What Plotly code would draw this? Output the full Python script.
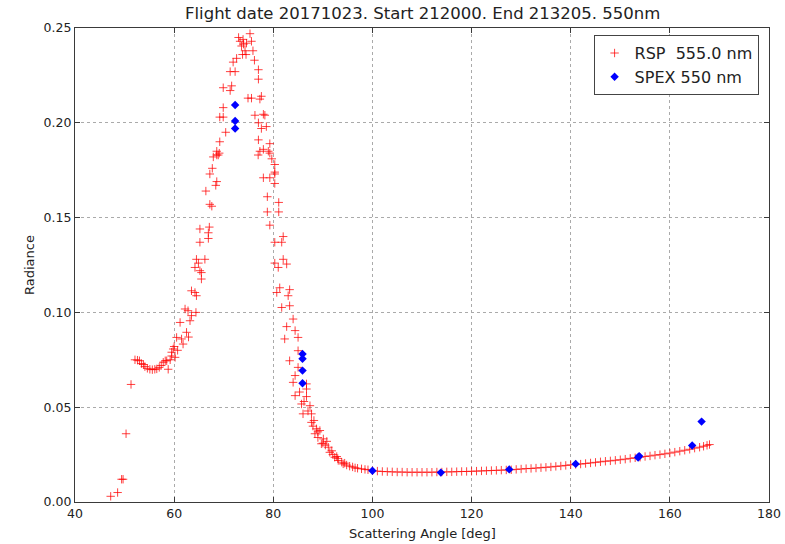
import plotly.graph_objects as go

# ---------------- data ----------------
title_text = "Flight date 20171023. Start 212000. End 213205. 550nm"
x_label = "Scattering Angle [deg]"
y_label = "Radiance"
rsp_name = "RSP  555.0 nm"
spex_name = "SPEX 550 nm"

x_ticks = [40, 60, 80, 100, 120, 140, 160, 180]
y_ticks = [0.00, 0.05, 0.10, 0.15, 0.20, 0.25]
y_tick_labels = ["0.00", "0.05", "0.10", "0.15", "0.20", "0.25"]

# RSP: rising branch
rsp_rise_angle = [47.2, 48.6, 49.4, 49.7, 50.3, 51.3, 52.1, 52.6, 53.0, 53.4, 53.8, 54.1,
                  54.6, 55.1, 55.6, 56.1, 56.5, 57.0, 57.4, 57.8, 58.2, 58.5, 58.8, 59.2,
                  59.5, 59.5, 59.8, 60.0, 60.2, 60.5, 60.7, 61.2, 61.5, 61.8, 62.2, 62.5,
                  62.8, 62.9, 63.2, 63.5, 63.5, 64.2, 64.4, 64.5, 64.2, 64.9, 65.2, 65.5,
                  65.2, 65.5, 64.5, 66.2, 66.9, 67.1, 65.2, 66.9, 67.6, 67.2, 66.4, 68.4,
                  68.6, 67.2, 67.7, 67.9, 68.6, 68.6, 68.9, 69.1, 69.2, 70.4, 69.2, 69.9,
                  69.9, 69.9, 71.3, 71.6, 71.3, 72.3, 71.9, 72.6, 73.3, 73.6, 73.9, 74.3,
                  74.6, 73.0, 74.0, 74.5, 73.8]
rsp_rise_rad = [0.003, 0.005, 0.012, 0.012, 0.036, 0.062, 0.075, 0.0748, 0.0745, 0.073, 0.0725, 0.0714,
                0.0705, 0.070, 0.0698, 0.070, 0.0702, 0.071, 0.072, 0.0737, 0.0745, 0.0745, 0.070, 0.075,
                0.077, 0.079, 0.0807, 0.082, 0.0763, 0.0868, 0.080, 0.0947, 0.086, 0.0833, 0.1018, 0.0895,
                0.1009, 0.087, 0.0956, 0.0983, 0.1114, 0.1105, 0.100, 0.1088, 0.1237, 0.126, 0.122, 0.1176,
                0.137, 0.121, 0.128, 0.128, 0.139, 0.145, 0.144, 0.142, 0.156, 0.157, 0.164, 0.167,
                0.169, 0.173, 0.176, 0.182, 0.183, 0.185, 0.183, 0.184, 0.190, 0.195, 0.203, 0.203,
                0.208, 0.2185, 0.217, 0.2195, 0.227, 0.227, 0.232, 0.234, 0.243, 0.2405, 0.244, 0.238,
                0.242, 0.245, 0.2415, 0.236, 0.236]

# RSP: falling branch
rsp_fall_angle = [75.3, 75.6, 75.9, 76.2, 77.0, 77.0, 74.9, 75.6, 77.3, 77.6, 76.3, 78.0,
                  78.3, 77.0, 78.6, 77.6, 77.0, 79.3, 77.3, 78.0, 79.3, 79.7, 80.3, 76.95,
                  79.0, 80.3, 78.0, 79.3, 80.3, 80.3, 78.8, 81.1, 78.8, 81.1, 79.3, 82.0,
                  80.3, 81.7, 82.0, 80.3, 82.7, 81.0, 81.3, 83.3, 80.7, 83.0, 81.7, 83.3,
                  84.0, 82.7, 84.4, 82.3, 85.0, 85.0, 83.3, 85.0, 84.4, 84.0, 86.7, 86.7,
                  84.4, 86.7, 85.7, 87.4, 86.0, 87.7, 87.7, 88.0, 88.7, 89.4, 88.4, 89.0,
                  90.1, 90.0, 89.7, 90.5, 91.1, 91.4, 91.8, 92.0, 92.4, 93.0, 93.1, 93.8,
                  94.1, 94.8, 95.4, 96.0, 96.5, 97.0, 97.8, 98.5, 99.1,
                  85.3, 86.2, 87.0, 88.2, 89.0, 90.8, 92.8, 94.4]
rsp_fall_rad = [0.247, 0.243, 0.238, 0.233, 0.228, 0.223, 0.213, 0.213, 0.2125, 0.214, 0.204, 0.2045,
                0.204, 0.200, 0.198, 0.197, 0.191, 0.189, 0.185, 0.186, 0.184, 0.181, 0.174, 0.183,
                0.185, 0.178, 0.171, 0.171, 0.173, 0.168, 0.161, 0.158, 0.153, 0.153, 0.146, 0.140,
                0.137, 0.137, 0.128, 0.126, 0.1255, 0.1237, 0.113, 0.112, 0.1105, 0.1088, 0.1026, 0.1035,
                0.0965, 0.0925, 0.0904, 0.086, 0.0868, 0.0798, 0.0745, 0.071, 0.0667, 0.0631, 0.0623, 0.0596,
                0.0561, 0.0556, 0.0517, 0.0508, 0.0465, 0.0465, 0.042, 0.040, 0.0386, 0.0377, 0.036, 0.034,
                0.0333, 0.031, 0.0307, 0.030, 0.0289, 0.0262, 0.027, 0.025, 0.0236, 0.023, 0.0219, 0.021,
                0.0201, 0.0195, 0.0189, 0.0185, 0.018, 0.0178, 0.0175, 0.0172, 0.017,
                0.058, 0.053, 0.048, 0.043, 0.037, 0.032, 0.024, 0.0205]

# RSP: flat tail
rsp_tail_angle = [100, 101, 102, 103, 104, 105, 106, 107, 108, 109, 110, 111, 112, 113, 114,
                  115, 116, 117, 118, 119, 120, 121, 122, 123, 124, 125, 126, 127, 128, 129,
                  130, 131, 132, 133, 134, 135, 136, 137, 138, 139, 140, 141, 142, 143, 144,
                  145, 146, 147, 148, 149, 150, 151, 152, 153, 154, 155, 156, 157, 158, 159,
                  160, 161, 162, 163, 164, 165, 166, 166.8, 167.5, 168]
rsp_tail_rad = [0.0165, 0.0163, 0.0161, 0.0160, 0.0159, 0.0158, 0.0158, 0.0157, 0.0157, 0.0157,
                0.0157, 0.0157, 0.0157, 0.0158, 0.0158, 0.0159, 0.0159, 0.0160, 0.0161, 0.0161,
                0.0162, 0.0163, 0.0164, 0.0165, 0.0166, 0.0167, 0.0168, 0.0169, 0.0170, 0.0172,
                0.0174, 0.0176, 0.0177, 0.0179, 0.0181, 0.0183, 0.0185, 0.0188, 0.0190, 0.0193,
                0.0196, 0.0198, 0.0200, 0.0203, 0.0206, 0.0209, 0.0212, 0.0215, 0.0217, 0.0220,
                0.0223, 0.0226, 0.0230, 0.0233, 0.0236, 0.0240, 0.0243, 0.0247, 0.0250, 0.0254,
                0.0258, 0.0263, 0.0268, 0.0273, 0.0278, 0.0284, 0.0289, 0.0294, 0.0299, 0.0303]

spex_angle = [72.3, 72.3, 72.3, 85.9, 85.9, 85.9, 85.9, 100.0, 113.8, 127.6, 141.0, 153.6, 153.8, 164.5, 166.4]
spex_rad = [0.2094, 0.201, 0.197, 0.0781, 0.0756, 0.0693, 0.0626, 0.0165, 0.0155, 0.0172, 0.0201, 0.0235, 0.0242, 0.0298, 0.0424]

rsp_angle = rsp_rise_angle + rsp_fall_angle + rsp_tail_angle
rsp_rad = rsp_rise_rad + rsp_fall_rad + rsp_tail_rad

# ---------------- figure ----------------
FONT = "DejaVu Sans"
RED = "rgba(255,0,0,0.75)"
fig = go.Figure()
fig.add_trace(go.Scatter(
    x=rsp_angle, y=rsp_rad, mode="markers", name=rsp_name,
    marker=dict(symbol="cross-thin-open", size=6, color=RED,
                line=dict(color=RED, width=1)),
))
fig.add_trace(go.Scatter(
    x=spex_angle, y=spex_rad, mode="markers", name=spex_name,
    marker=dict(symbol="diamond", size=6.5, color="#0000ff", line=dict(width=0)),
))

axis_common = dict(
    showline=True, linecolor="#3a3a3a", linewidth=1.3, mirror="allticks",
    ticks="inside", ticklen=5, tickcolor="#3a3a3a", tickwidth=1,
    showgrid=True, gridcolor="#aaaaaa", griddash="dot", gridwidth=1,
    zeroline=False, automargin=False, tickfont=dict(family=FONT, size=12.5, color="#222"),
)
fig.update_xaxes(range=[40, 180], tickvals=x_ticks, ticktext=[str(v) for v in x_ticks], **axis_common)
fig.update_yaxes(range=[0, 0.25], tickvals=y_ticks, ticktext=y_tick_labels, **axis_common)

fig.update_layout(
    width=785, height=544,
    margin=dict(l=75, r=16, t=28, b=42, pad=0, autoexpand=False),
    paper_bgcolor="white", plot_bgcolor="white",
    font=dict(family=FONT, color="#222"),
    showlegend=True,
    legend=dict(x=0.985, y=0.985, xanchor="right", yanchor="top",
                bgcolor="white", bordercolor="#444", borderwidth=1,
                font=dict(family=FONT, size=16, color="#222"),
                itemsizing="trace", tracegroupgap=0),
    annotations=[
        dict(text=title_text, xref="paper", yref="paper", x=0.5, y=1, yanchor="middle",
             yshift=15, showarrow=False, font=dict(family=FONT, size=16.5, color="#222")),
        dict(text=x_label, xref="paper", yref="paper", x=0.5, y=0, yanchor="middle",
             yshift=-31, showarrow=False, font=dict(family=FONT, size=13, color="#222")),
        dict(text=y_label, xref="paper", yref="paper", x=0, y=0.5, xanchor="center",
             xshift=-46, textangle=-90, showarrow=False, font=dict(family=FONT, size=13, color="#222")),
    ],
)

fig.write_html("out.html")
